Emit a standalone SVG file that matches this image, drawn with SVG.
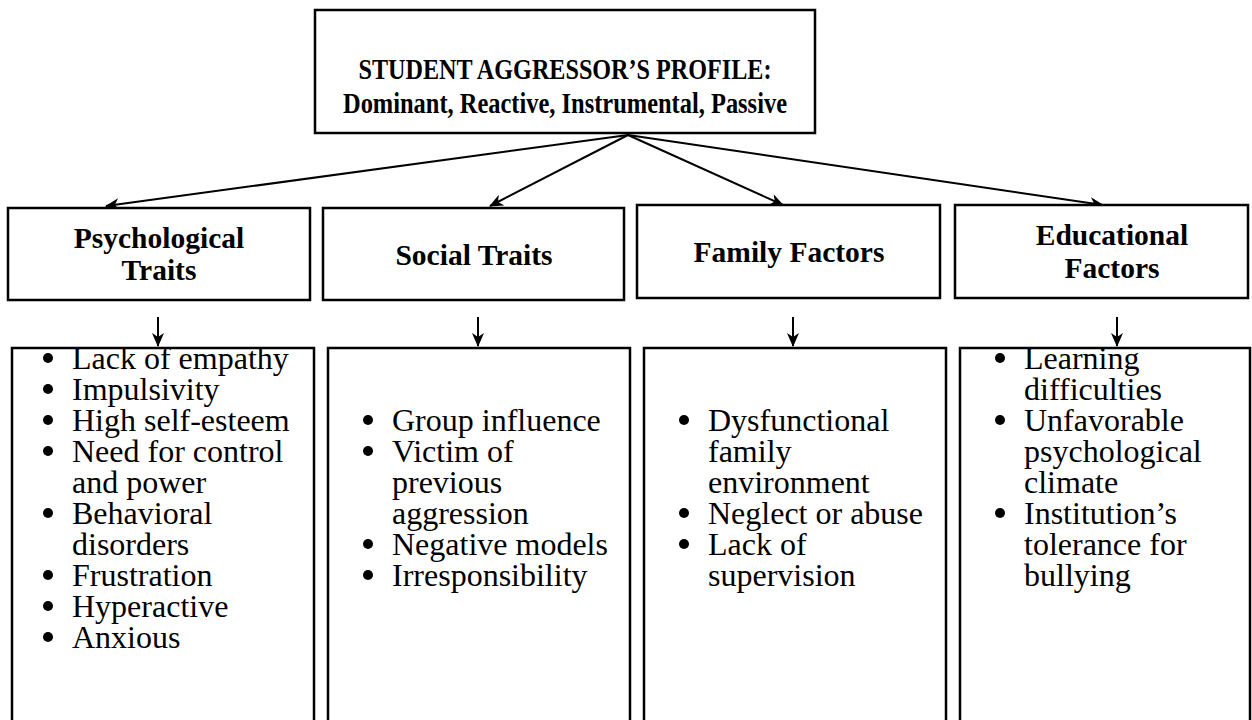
<svg xmlns="http://www.w3.org/2000/svg" width="1252" height="720" viewBox="0 0 1252 720">
<defs>
<marker id="ah" viewBox="0 0 14 12" refX="13" refY="6" markerWidth="14" markerHeight="12" markerUnits="userSpaceOnUse" orient="auto">
<path d="M0,0 L14,6 L0,12 L4,6 z" fill="#000"/>
</marker>
<style>
.box{fill:#fff;stroke:#000;stroke-width:2.5}
.conn{stroke:#000;stroke-width:2;fill:none;marker-end:url(#ah)}
.h{font-family:"Liberation Serif","Times New Roman",serif;font-weight:bold;font-size:28.5px;text-anchor:middle;fill:#000}
.t{font-family:"Liberation Serif","Times New Roman",serif;font-weight:bold;font-size:29.5px;text-anchor:middle;fill:#000}
.b{font-family:"Liberation Serif","Times New Roman",serif;font-size:32px;fill:#000}
.dot{fill:#000}
</style>
</defs>
<rect width="1252" height="720" fill="#fff"/>
<g id="top">
<rect class="box" x="315" y="10" width="500" height="123"/>
<text class="h" x="565" y="113"><tspan x="565" y="79" textLength="413" lengthAdjust="spacingAndGlyphs">STUDENT AGGRESSOR’S PROFILE:</tspan><tspan x="565" y="113" textLength="444" lengthAdjust="spacingAndGlyphs">Dominant, Reactive, Instrumental, Passive</tspan></text>
</g>
<g id="connectors">
<line class="conn" x1="628" y1="135" x2="106" y2="206"/>
<line class="conn" x1="628" y1="135" x2="490" y2="206"/>
<line class="conn" x1="628" y1="135" x2="783" y2="205"/>
<line class="conn" x1="628" y1="135" x2="1103" y2="205"/>
<line class="conn" x1="158" y1="317" x2="158" y2="346"/>
<line class="conn" x1="478" y1="317" x2="478" y2="346"/>
<line class="conn" x1="793" y1="317" x2="793" y2="346"/>
<line class="conn" x1="1117" y1="317" x2="1117" y2="346"/>
</g>
<g id="psych-head">
<rect class="box" x="8" y="208" width="302" height="92"/>
<text class="t"><tspan x="159" y="248">Psychological</tspan><tspan x="159" y="280">Traits</tspan></text>
</g>
<g id="social-head">
<rect class="box" x="323" y="208" width="301" height="92"/>
<text class="t" x="474" y="265">Social Traits</text>
</g>
<g id="family-head">
<rect class="box" x="637" y="205" width="303" height="93"/>
<text class="t" x="789" y="262">Family Factors</text>
</g>
<g id="edu-head">
<rect class="box" x="955" y="205" width="293" height="93"/>
<text class="t"><tspan x="1112" y="245">Educational</tspan><tspan x="1112" y="278">Factors</tspan></text>
</g>
<g id="psych-list">
<rect class="box" x="12" y="348" width="302" height="380"/>
<text class="b"><tspan x="72" y="369">Lack of empathy</tspan><tspan x="72" y="400">Impulsivity</tspan><tspan x="72" y="431">High self-esteem</tspan><tspan x="72" y="462">Need for control</tspan><tspan x="72" y="493">and power</tspan><tspan x="72" y="524">Behavioral</tspan><tspan x="72" y="555">disorders</tspan><tspan x="72" y="586">Frustration</tspan><tspan x="72" y="617">Hyperactive</tspan><tspan x="72" y="648">Anxious</tspan></text>
<circle class="dot" cx="48" cy="358" r="5"/>
<circle class="dot" cx="48" cy="389" r="5"/>
<circle class="dot" cx="48" cy="420" r="5"/>
<circle class="dot" cx="48" cy="451" r="5"/>
<circle class="dot" cx="48" cy="513" r="5"/>
<circle class="dot" cx="48" cy="575" r="5"/>
<circle class="dot" cx="48" cy="606" r="5"/>
<circle class="dot" cx="48" cy="637" r="5"/>
</g>
<g id="social-list">
<rect class="box" x="328" y="348" width="302" height="380"/>
<text class="b"><tspan x="392" y="431">Group influence</tspan><tspan x="392" y="462">Victim of</tspan><tspan x="392" y="493">previous</tspan><tspan x="392" y="524">aggression</tspan><tspan x="392" y="555">Negative models</tspan><tspan x="392" y="586">Irresponsibility</tspan></text>
<circle class="dot" cx="368" cy="420" r="5"/>
<circle class="dot" cx="368" cy="451" r="5"/>
<circle class="dot" cx="368" cy="544" r="5"/>
<circle class="dot" cx="368" cy="575" r="5"/>
</g>
<g id="family-list">
<rect class="box" x="644" y="348" width="302" height="380"/>
<text class="b"><tspan x="708" y="431">Dysfunctional</tspan><tspan x="708" y="462">family</tspan><tspan x="708" y="493">environment</tspan><tspan x="708" y="524">Neglect or abuse</tspan><tspan x="708" y="555">Lack of</tspan><tspan x="708" y="586">supervision</tspan></text>
<circle class="dot" cx="684" cy="420" r="5"/>
<circle class="dot" cx="684" cy="513" r="5"/>
<circle class="dot" cx="684" cy="544" r="5"/>
</g>
<g id="edu-list">
<rect class="box" x="960" y="348" width="290" height="380"/>
<text class="b"><tspan x="1024" y="369">Learning</tspan><tspan x="1024" y="400">difficulties</tspan><tspan x="1024" y="431">Unfavorable</tspan><tspan x="1024" y="462">psychological</tspan><tspan x="1024" y="493">climate</tspan><tspan x="1024" y="524">Institution’s</tspan><tspan x="1024" y="555">tolerance for</tspan><tspan x="1024" y="586">bullying</tspan></text>
<circle class="dot" cx="1000" cy="358" r="5"/>
<circle class="dot" cx="1000" cy="420" r="5"/>
<circle class="dot" cx="1000" cy="513" r="5"/>
</g>
</svg>
